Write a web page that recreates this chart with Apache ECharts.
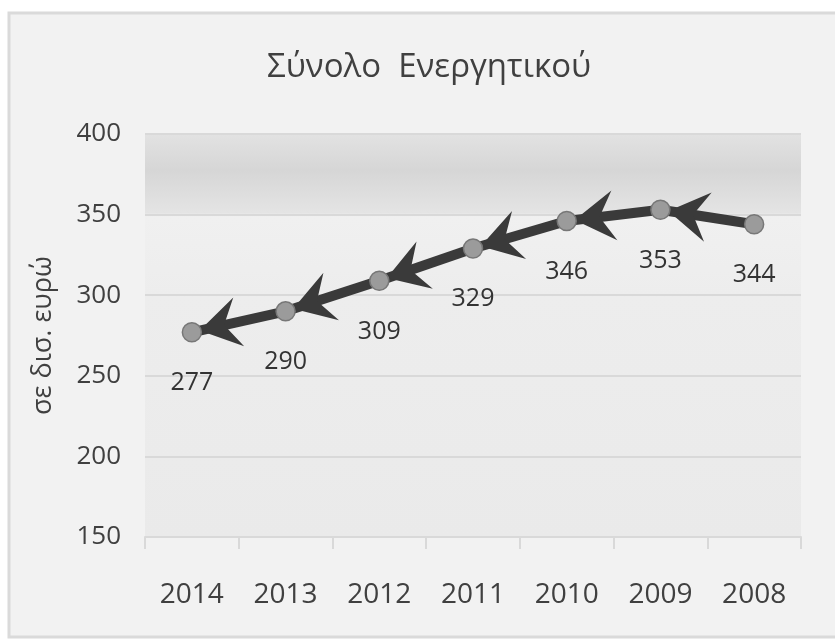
<!DOCTYPE html>
<html>
<head>
<meta charset="utf-8">
<script src="https://cdn.jsdelivr.net/npm/echarts@6/dist/echarts.min.js"></script>
<style>
  html, body { margin: 0; padding: 0; background: #ffffff; }
  #chart { width: 835px; height: 641px; }
</style>
</head>
<body>
<div id="chart"></div>
<script>
// Total assets per year (billion euro), newest year first
const years = ['2014', '2013', '2012', '2011', '2010', '2009', '2008'];
const totals = [277, 290, 309, 329, 346, 353, 344];
const yTicks = { min: 150, max: 400, step: 50 };
const titleText = 'Σύνολο  Ενεργητικού';
const unitText = 'σε δισ. ευρώ';

// Each segment runs from the older year to the newer one, ending in an arrowhead
const segments = [];
for (let i = 0; i < years.length - 1; i++) {
  segments.push({ coords: [[i + 1, totals[i + 1]], [i, totals[i]]] });
}

// Notched arrowhead pointing up; the extra move point keeps the tip just short of the marker
const arrowPath = 'path://M0 -48 M0 8 L25 48 L0 33 L-25 48 Z';

const textColor = '#404040';
const gridColor = '#d9d9d9';

const chart = echarts.init(document.getElementById('chart'), null, { renderer: 'canvas' });
chart.setOption({
  animation: false,
  backgroundColor: '#ffffff',
  textStyle: { fontFamily: 'Open Sans' },
  graphic: [{
    type: 'rect',
    z: -10,
    silent: true,
    shape: { x: 9, y: 13, width: 840, height: 624 },
    style: { fill: '#f2f2f2', stroke: '#dadada', lineWidth: 3 }
  }],
  title: {
    text: titleText,
    left: 262,
    top: 46,
    textStyle: { color: textColor, fontSize: 33, fontWeight: 'normal', fontFamily: 'Open Sans' }
  },
  grid: {
    left: 145, right: 34, top: 134, bottom: 104,
    show: true,
    borderWidth: 0,
    backgroundColor: {
      type: 'linear', x: 0, y: 0, x2: 0, y2: 1,
      colorStops: [
        { offset: 0, color: '#e2e2e2' },
        { offset: 0.09, color: '#d6d6d6' },
        { offset: 0.195, color: '#e4e4e4' },
        { offset: 0.205, color: '#f0f0f0' },
        { offset: 0.40, color: '#ededed' },
        { offset: 1, color: '#eaeaea' }
      ]
    }
  },
  xAxis: {
    type: 'category',
    data: years,
    boundaryGap: true,
    axisLine: { show: true, lineStyle: { color: gridColor, width: 2 } },
    axisTick: { show: true, length: 12, lineStyle: { color: gridColor, width: 2 } },
    axisLabel: { color: textColor, fontSize: 28, margin: 44 },
    splitLine: { show: false }
  },
  yAxis: {
    type: 'value',
    min: yTicks.min, max: yTicks.max, interval: yTicks.step,
    name: unitText,
    nameLocation: 'middle',
    nameRotate: 90,
    nameGap: 88,
    nameTextStyle: { color: textColor, fontSize: 27 },
    axisLine: { show: false },
    axisTick: { show: false },
    axisLabel: { color: textColor, fontSize: 26, margin: 24 },
    splitLine: { show: true, lineStyle: { color: gridColor, width: 2 } }
  },
  series: [
    {
      type: 'lines',
      coordinateSystem: 'cartesian2d',
      z: 2,
      symbol: ['none', arrowPath],
      symbolSize: [1, [50, 96]],
      lineStyle: { color: '#3a3a3a', width: 10, opacity: 1, curveness: 0 },
      data: segments
    },
    {
      type: 'line',
      z: 3,
      data: totals,
      symbol: 'circle',
      symbolSize: 19,
      showSymbol: true,
      lineStyle: { width: 0 },
      itemStyle: { color: '#9b9b9b', borderColor: '#777777', borderWidth: 1.5 },
      label: {
        show: true,
        position: 'bottom',
        distance: 28,
        color: '#333333',
        fontSize: 25
      }
    }
  ]
});
</script>
</body>
</html>
